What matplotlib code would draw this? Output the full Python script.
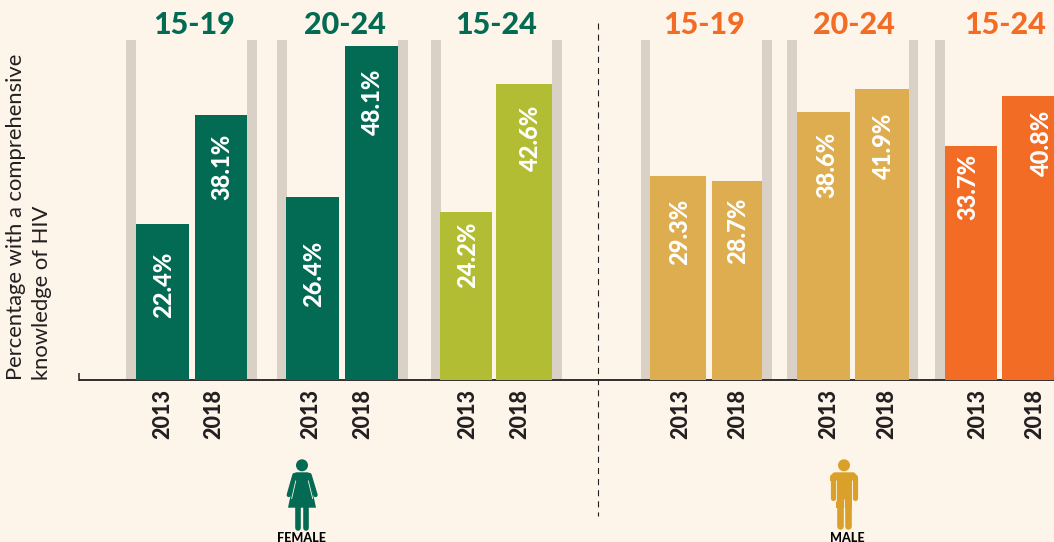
import matplotlib
matplotlib.use("Agg")
import matplotlib.pyplot as plt
from matplotlib.patches import Circle, Polygon, Rectangle

# ---- data ----
groups = ["15-19", "20-24", "15-24", "15-19", "20-24", "15-24"]
years = ["2013", "2018"]
values_2013 = [22.4, 26.4, 24.2, 29.3, 38.6, 33.7]
values_2018 = [38.1, 48.1, 42.6, 28.7, 41.9, 40.8]
ylabel_text = "Percentage with a comprehensive\nknowledge of HIV"

# ---- layout (pixels) ----
W, H = 1054, 542
BASE_Y = 380
PX_PER_UNIT = 6.95
left_2013 = [135.5, 286, 440, 650, 796.5, 945]
right_2013 = [189, 339, 492, 706, 850, 997]
left_2018 = [194.5, 345, 496, 712, 855, 1002]
right_2018 = [247, 398, 552, 762, 908.5, 1060]
grey_left = [126, 277, 431, 640.5, 787, 935]
grey_right = [247, 398, 552, 762, 908.5, None]
title_x = [194, 345, 496, 704, 854, 1005]
label_x_2013 = [163.5, 314, 467.5, 680, 827, 967.5]
label_x_2018 = [221.5, 372.5, 530.5, 737.5, 883.5, 1041.5]
label_y_2013 = [285, 274, 255, 232, 165, 187]
label_y_2018 = [167, 102, 138, 231, 146, 143]
year_x_2013 = [162.5, 310.5, 467.5, 680.5, 828.5, 977.5]
year_x_2018 = [213.5, 362.5, 519.5, 737.5, 886.5, 1034.5]

BG = "#FDF4EA"
GREEN = "#036B54"
OLIVE = "#B2BD34"
GOLD = "#DEAD50"
ORANGE = "#F36C25"
GREY = "#D9D0C6"
ICON_GOLD = "#D9A02A"
DARK = "#231F20"
bar_colors = [GREEN, GREEN, OLIVE, GOLD, GOLD, ORANGE]
title_colors = [GREEN, GREEN, GREEN, ORANGE, ORANGE, ORANGE]

FONT = "Lato"

fig = plt.figure(figsize=(W / 100, H / 100), dpi=100, facecolor=BG)
ax = fig.add_axes([0, 0, 1, 1], facecolor="none")
ax.set_xlim(0, W)
ax.set_ylim((BASE_Y - H) / PX_PER_UNIT, BASE_Y / PX_PER_UNIT)
ax.axis("off")
ax.set_zorder(2)

# overlay in pixel coordinates for furniture and icons
px = fig.add_axes([0, 0, 1, 1], facecolor="none")
px.set_xlim(0, W)
px.set_ylim(H, 0)
px.axis("off")
px.set_zorder(3)

under = fig.add_axes([0, 0, 1, 1], facecolor="none")
under.set_xlim(0, W)
under.set_ylim(H, 0)
under.axis("off")
under.set_zorder(1)

# grey frames
for i in range(6):
    under.add_patch(Rectangle((grey_left[i], 40), 9.5, BASE_Y - 40, color=GREY, lw=0, zorder=1))
    if grey_right[i] is not None:
        under.add_patch(Rectangle((grey_right[i], 40), 9.7, BASE_Y - 40, color=GREY, lw=0, zorder=1))

# baseline
under.plot([79, W], [380.3, 380.3], color=DARK, lw=1.3, zorder=2, solid_capstyle="butt")
under.plot([79, 79], [373, 381], color=DARK, lw=1.1, zorder=2, solid_capstyle="butt")

# divider
under.plot([597.7, 597.7], [23, 516], color=DARK, lw=0.8, dashes=(5.5, 4.5), zorder=2)

# bars and labels
for i in range(6):
    ax.bar(left_2013[i], values_2013[i], width=right_2013[i] - left_2013[i], align="edge",
           color=bar_colors[i], lw=0)
    ax.bar(left_2018[i], values_2018[i], width=right_2018[i] - left_2018[i], align="edge",
           color=bar_colors[i], lw=0)
    px.text(label_x_2013[i], label_y_2013[i], f"{values_2013[i]:.1f}%", rotation=90, color="white",
            ha="center", va="center", fontsize=17, fontweight="black", family=FONT)
    px.text(label_x_2018[i], label_y_2018[i], f"{values_2018[i]:.1f}%", rotation=90, color="white",
            ha="center", va="center", fontsize=17, fontweight="black", family=FONT)
    px.text(year_x_2013[i], 389, years[0], rotation=90, color=DARK, ha="center", va="top",
            fontsize=15.5, fontweight="black", family=FONT)
    px.text(year_x_2018[i], 389, years[1], rotation=90, color=DARK, ha="center", va="top",
            fontsize=15.5, fontweight="black", family=FONT)
    px.text(title_x[i], 25, groups[i], color=title_colors[i], ha="center", va="center",
            fontsize=22, fontweight="black", family=FONT)

# y axis label
px.text(29, 380, ylabel_text, rotation=90, ha="center", va="bottom", multialignment="left",
        color=DARK, fontsize=15.8, family=FONT, fontweight="normal", linespacing=1.35)


def limb(x0, y0, x1, y1, w, color):
    px.plot([x0, x1], [y0, y1], color=color, lw=w * 0.72, solid_capstyle="round", zorder=4)


def gap(x0, y0, x1, y1):
    px.plot([x0, x1], [y0, y1], color=BG, lw=0.6, solid_capstyle="butt", zorder=5)


# female icon
px.add_patch(Circle((302, 465.3), 6, color=GREEN, lw=0, zorder=4))
px.add_patch(Polygon([(295.5, 472.3), (308.5, 472.3), (316, 507.7), (288, 507.7)],
                     closed=True, color=GREEN, lw=0, zorder=4))
limb(294.5, 475, 288.8, 495, 4.4, GREEN)
limb(309.5, 475, 315.5, 495, 4.4, GREEN)
gap(295.8, 480.5, 291.6, 499)
gap(308.2, 480.5, 312.8, 499)
limb(298.3, 506, 298.3, 527.5, 5.6, GREEN)
limb(305.7, 506, 305.7, 527.5, 5.6, GREEN)

# male icon
px.add_patch(Circle((844, 465.3), 6, color=ICON_GOLD, lw=0, zorder=4))
px.add_patch(Polygon([(834, 472.3), (854, 472.3), (857.7, 476), (857.7, 481), (830, 481), (830, 476)],
                     closed=True, color=ICON_GOLD, lw=0, zorder=4))
px.add_patch(Rectangle((836, 478), 16, 30, color=ICON_GOLD, lw=0, zorder=4))
limb(832.7, 478, 832.7, 497.5, 5.2, ICON_GOLD)
limb(855.2, 478, 855.2, 497.5, 5.2, ICON_GOLD)
gap(835.7, 479.5, 835.7, 501)
gap(852.3, 479.5, 852.3, 501)
limb(839.6, 505, 839.6, 525.5, 6.6, ICON_GOLD)
limb(848.2, 505, 848.2, 525.5, 6.6, ICON_GOLD)
gap(843.9, 499, 843.9, 529)

px.text(301, 537.5, "FEMALE", ha="center", va="center", fontsize=9, fontweight="black",
        color="black", family=FONT)
px.text(847, 537.5, "MALE", ha="center", va="center", fontsize=9, fontweight="black",
        color="black", family=FONT)

fig.savefig("out.png", dpi=100, facecolor=BG)
